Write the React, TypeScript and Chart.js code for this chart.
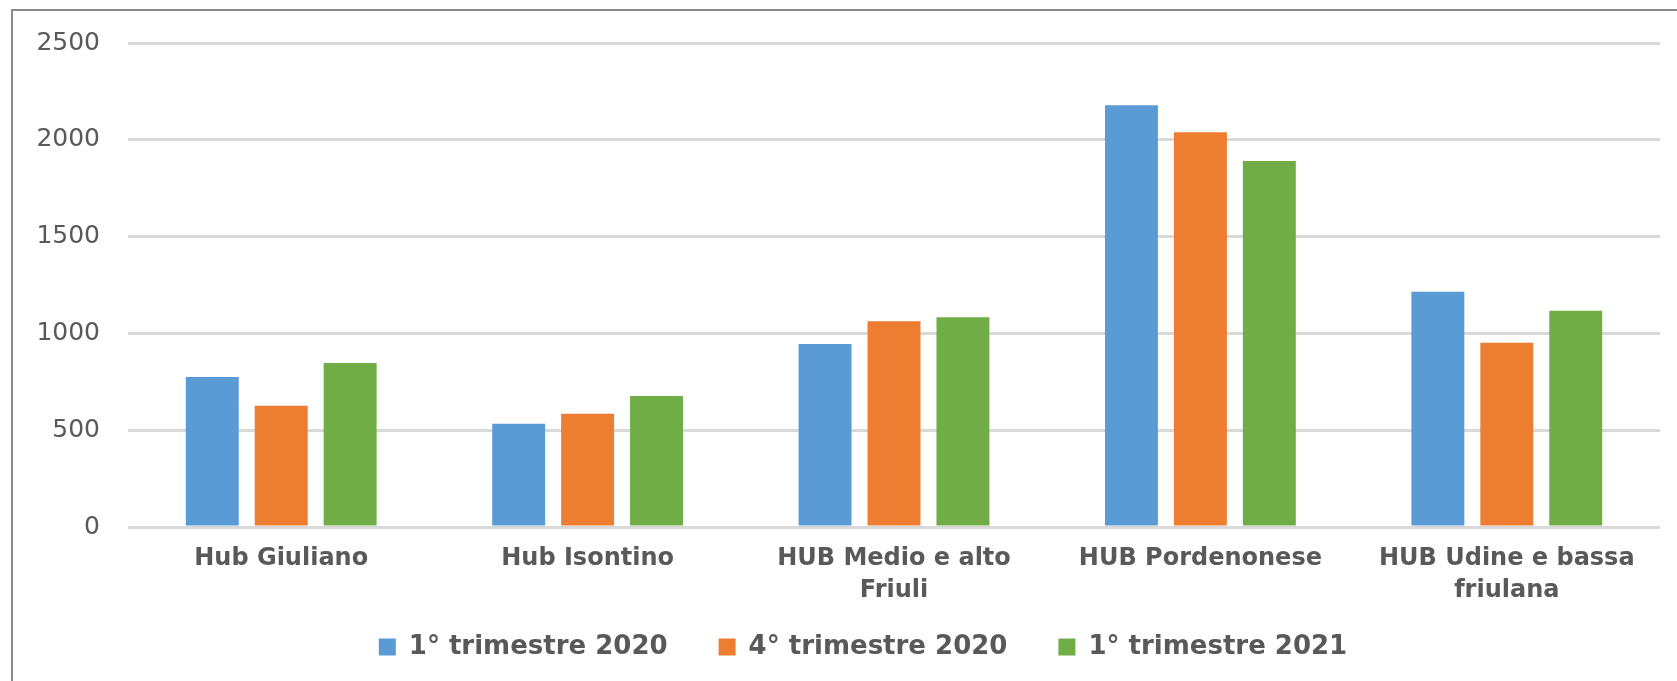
import React, { useEffect, useRef } from "react";
import { Chart, registerables } from "chart.js";

Chart.register(...registerables);

const categories: (string | string[])[] = [
  "Hub Giuliano",
  "Hub Isontino",
  ["HUB Medio e alto", "Friuli"],
  "HUB Pordenonese",
  ["HUB Udine e bassa", "friulana"],
];
const seriesNames = ["1° trimestre 2020", "4° trimestre 2020", "1° trimestre 2021"];
const q1_2020 = [775, 533, 945, 2178, 1215];
const q4_2020 = [626, 585, 1063, 2039, 952];
const q1_2021 = [847, 677, 1084, 1890, 1117];
const yMin = 0;
const yMax = 2500;
const yStep = 500;
const seriesColors = ["#5B9BD5", "#ED7D31", "#70AD47"];

const framePlugin = {
  id: "frame",
  beforeDraw(chart: any) {
    const ctx = chart.ctx;
    ctx.save();
    ctx.fillStyle = "#ffffff";
    ctx.fillRect(0, 0, chart.width, chart.height);
    ctx.strokeStyle = "#8c8c8c";
    ctx.lineWidth = 2;
    ctx.beginPath();
    ctx.moveTo(12, chart.height);
    ctx.lineTo(12, 10);
    ctx.lineTo(chart.width, 10);
    ctx.stroke();
    ctx.restore();
  },
};

// Place the legend row where the reference has it (slightly right of centre, higher up)
const legendShiftPlugin = {
  id: "legendShift",
  afterLayout(chart: any) {
    const l = chart.legend;
    if (!l) return;
    const dx = 28;
    const dy = -27;
    l.left += dx;
    l.right += dx;
    l.top += dy;
    l.bottom += dy;
  },
};

export default function App() {
  const ref = useRef<HTMLCanvasElement | null>(null);

  useEffect(() => {
    if (!ref.current) return;
    const padLeft = 10;
    const chart = new Chart(ref.current, {
      type: "bar",
      data: {
        labels: categories as any,
        datasets: [q1_2020, q4_2020, q1_2021].map((d, i) => ({
          label: seriesNames[i],
          data: d,
          backgroundColor: seriesColors[i],
          borderWidth: 0,
          categoryPercentage: 0.675,
          barPercentage: 0.768,
        })),
      },
      options: {
        animation: false,
        responsive: false,
        maintainAspectRatio: false,
        layout: { padding: { left: padLeft, right: 17, top: 40, bottom: -16 } },
        plugins: {
          tooltip: { enabled: false },
          legend: {
            position: "bottom",
            labels: {
              boxWidth: 17,
              boxHeight: 17,
              padding: 51,
              color: "#595959",
              font: { family: "'DejaVu Sans', sans-serif", size: 26, weight: "bold" },
            },
          },
        },
        scales: {
          x: {
            grid: { display: false, drawTicks: false },
            border: { display: false },
            ticks: {
              autoSkip: false,
              maxRotation: 0,
              minRotation: 0,
              padding: 16,
              color: "#595959",
              font: { family: "'DejaVu Sans', sans-serif", size: 24, weight: "bold", lineHeight: 1.33 },
            },
            afterFit: (scale: any) => {
              scale.height = 83;
            },
          },
          y: {
            min: yMin,
            max: yMax,
            grid: { color: "#d9d9d9", lineWidth: 3, drawTicks: false },
            border: { display: false },
            ticks: {
              stepSize: yStep,
              padding: 28,
              color: "#595959",
              font: { family: "'DejaVu Sans', sans-serif", size: 25 },
              callback: (v: any) => String(v),
            },
            afterFit: (scale: any) => {
              scale.width = 128 - padLeft;
            },
          },
        },
      },
      plugins: [framePlugin, legendShiftPlugin],
    });
    return () => chart.destroy();
  }, []);

  return (
    <div style={{ position: "fixed", left: 0, top: 0, width: 1677, height: 681, overflow: "hidden", background: "#fff" }}>
      <canvas ref={ref} width={1677} height={681} style={{ width: 1677, height: 681, display: "block" }} />
    </div>
  );
}
